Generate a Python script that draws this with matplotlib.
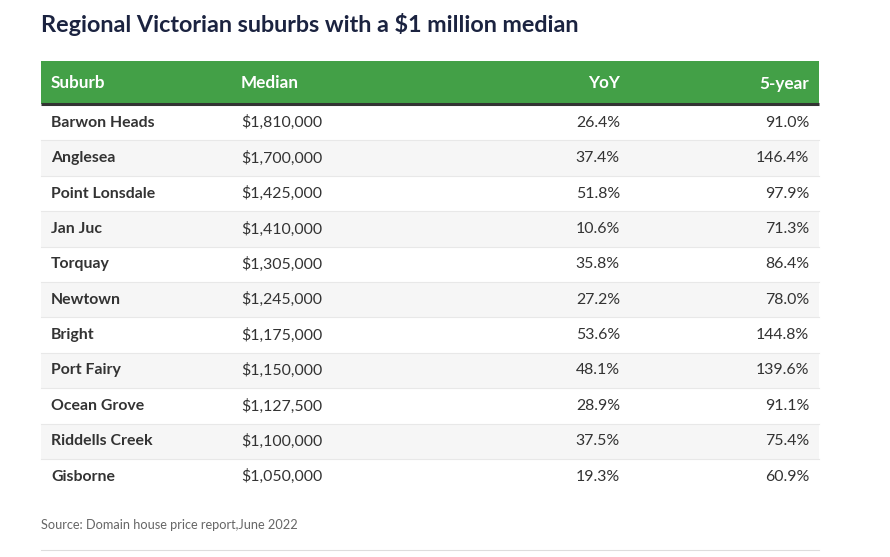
import matplotlib
matplotlib.use("Agg")
import matplotlib.pyplot as plt
from matplotlib.patches import Rectangle

title = "Regional Victorian suburbs with a $1 million median"
headers = ["Suburb", "Median", "YoY", "5-year"]
suburbs = ["Barwon Heads", "Anglesea", "Point Lonsdale", "Jan Juc", "Torquay", "Newtown",
           "Bright", "Port Fairy", "Ocean Grove", "Riddells Creek", "Gisborne"]
medians = [1810000, 1700000, 1425000, 1410000, 1305000, 1245000,
           1175000, 1150000, 1127500, 1100000, 1050000]
yoy = [26.4, 37.4, 51.8, 10.6, 35.8, 27.2, 53.6, 48.1, 28.9, 37.5, 19.3]
five_year = [91.0, 146.4, 97.9, 71.3, 86.4, 78.0, 144.8, 139.6, 91.1, 75.4, 60.9]
source = "Source: Domain house price report,June 2022"

W, H = 890, 557
fig = plt.figure(figsize=(W / 100, H / 100), dpi=100)
ax = fig.add_axes([0, 0, 1, 1])
ax.set_xlim(0, W)
ax.set_ylim(H, 0)
ax.axis("off")

FONT = "Lato"
left, right = 41, 819
head_top, head_bot = 61, 104
row_h = 35.4
green = "#43a047"
text_c = "#333333"

ax.text(left, 25, title, fontsize=16.8, fontweight="bold", color="#1b2340",
        family=FONT, va="center", ha="left")

ax.add_patch(Rectangle((left, head_top), right - left, head_bot - head_top,
                       facecolor=green, edgecolor="none"))
ax.plot([left, right], [head_bot, head_bot], color="#333333", lw=2.2, solid_capstyle="butt")

col_x = [51, 241, 620, 809]
col_ha = ["left", "left", "right", "right"]
hy = (head_top + head_bot) / 2
for h, x, ha in zip(headers, col_x, col_ha):
    ax.text(x, hy + 1, h, fontsize=12.3, fontweight="bold", color="white",
            family=FONT, va="center", ha=ha)

top0 = head_bot + 1
for i, (s, m, y, f) in enumerate(zip(suburbs, medians, yoy, five_year)):
    t = top0 + i * row_h
    if i % 2 == 1:
        ax.add_patch(Rectangle((left, t), right - left, row_h,
                               facecolor="#f6f6f6", edgecolor="none"))
    if i > 0:
        ax.plot([left, right], [t, t], color="#e8e8e8", lw=0.8)
    cy = t + row_h / 2
    vals = [s, f"${m:,.0f}", f"{y:.1f}%", f"{f:.1f}%"]
    for j, (v, x, ha) in enumerate(zip(vals, col_x, col_ha)):
        ax.text(x, cy, v, fontsize=11.4, fontweight="bold" if j == 0 else "normal",
                color=text_c, family=FONT, va="center", ha=ha)

ax.text(left, 525, source, fontsize=9.2, color="#666666", family=FONT,
        va="center", ha="left")
ax.plot([left, right], [550, 550], color="#dddddd", lw=0.8)

fig.savefig("out.png", dpi=100, facecolor="white")
